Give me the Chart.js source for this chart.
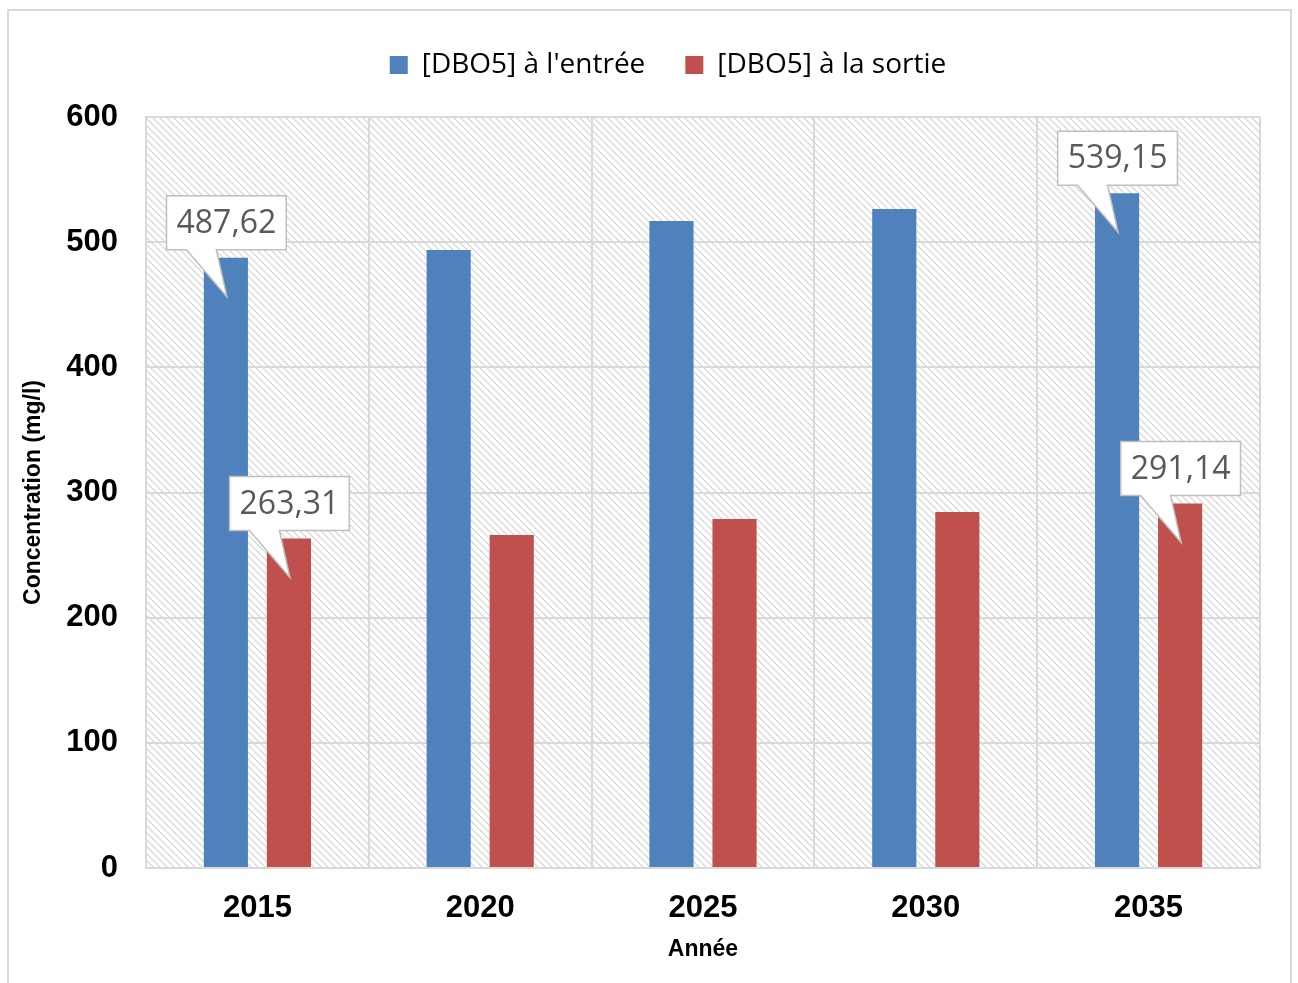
<!DOCTYPE html>
<html>
<head>
<meta charset="utf-8">
<script src="https://cdn.jsdelivr.net/npm/chart.js@4.4.1/dist/chart.umd.min.js"></script>
<style>
    html, body { margin: 0; padding: 0; background: #ffffff; }
    #wrap { width: 1298px; height: 983px; position: relative; }
</style>
</head>
<body>
<div id="wrap"><canvas id="dboChart"></canvas></div>
<script>
// ==========================================
// 1. DATA
// ==========================================
const YEARS = ['2015', '2020', '2025', '2030', '2035'];
const DBO5_ENTREE = [487.62, 493.7, 516.9, 526.5, 539.15];   // mg/l
const DBO5_SORTIE = [263.31, 266.0, 278.8, 284.4, 291.14];   // mg/l
const SERIES_NAMES = ["[DBO5] à l'entrée", '[DBO5] à la sortie'];
const Y_MIN = 0, Y_MAX = 600, Y_STEP = 100;

// [datasetIndex, pointIndex] that get a callout label
const LABELLED = [[0, 0], [0, 4], [1, 0], [1, 4]];

// Colours
const BLUE = '#4f81bd';
const RED = '#c0504d';
const GRID = '#d9d9d9';

// ==========================================
// 2. HELPERS
// ==========================================
function makeHatch() {
    const s = 7;
    const c = document.createElement('canvas');
    c.width = s; c.height = s;
    const g = c.getContext('2d');
    g.fillStyle = '#ffffff';
    g.fillRect(0, 0, s, s);
    g.strokeStyle = '#d2d2d2';
    g.lineWidth = 1.2;
    g.beginPath();
    g.moveTo(-1, -1); g.lineTo(s + 1, s + 1);
    g.moveTo(s - 1, -1); g.lineTo(s + 1, 1);
    g.moveTo(-1, s - 1); g.lineTo(1, s + 1);
    g.stroke();
    return c;
}

function fmt(v) {
    return v.toFixed(2).replace('.', ',');
}

// Page background, outer frame and hatched plot area
const backgroundPlugin = {
    id: 'background',
    beforeDraw(chart) {
        const { ctx, chartArea: a } = chart;
        ctx.save();
        ctx.fillStyle = '#ffffff';
        ctx.fillRect(0, 0, chart.width, chart.height);
        ctx.strokeStyle = GRID;
        ctx.lineWidth = 2;
        ctx.strokeRect(8, 10, 1283, 990);
        ctx.fillStyle = ctx.createPattern(makeHatch(), 'repeat');
        ctx.fillRect(a.left, a.top, a.right - a.left, a.bottom - a.top);
        ctx.restore();
    }
};

// Legend sits a bit right of the canvas centre in the original
const legendShiftPlugin = {
    id: 'legendShift',
    afterLayout(chart) {
        chart.legend.left += 38;
        chart.legend.right += 38;
    }
};

// Speech-bubble value labels above selected bars
const calloutPlugin = {
    id: 'callouts',
    afterDatasetsDraw(chart) {
        const ctx = chart.ctx;
        ctx.save();
        ctx.font = '32px "Open Sans", sans-serif';
        ctx.textAlign = 'center';
        ctx.textBaseline = 'middle';
        LABELLED.forEach(([d, i]) => {
            const bar = chart.getDatasetMeta(d).data[i];
            const value = chart.data.datasets[d].data[i];
            const text = fmt(value);
            const w = ctx.measureText(text).width + 20;
            const h = 54;
            const cx = bar.x + 0.5;
            const x0 = cx - w / 2, x1 = cx + w / 2;
            const y1 = bar.y - 8, y0 = y1 - h;
            const tipX = bar.x + 1, tipY = bar.y + 39;

            ctx.beginPath();
            ctx.moveTo(x0, y0);
            ctx.lineTo(x1, y0);
            ctx.lineTo(x1, y1);
            ctx.lineTo(cx - 10, y1);
            ctx.lineTo(tipX, tipY);
            ctx.lineTo(cx - 40, y1);
            ctx.lineTo(x0, y1);
            ctx.closePath();
            ctx.fillStyle = '#ffffff';
            ctx.fill();
            ctx.strokeStyle = '#bfbfbf';
            ctx.lineWidth = 1.5;
            ctx.stroke();

            ctx.fillStyle = '#595959';
            ctx.fillText(text, cx, (y0 + y1) / 2 + 1);
        });
        ctx.restore();
    }
};

// ==========================================
// 3. CHART
// ==========================================
const tickFont = { family: '"Liberation Sans", Arial, sans-serif', size: 31, weight: 'bold' };
const titleFont = { family: '"Liberation Sans", Arial, sans-serif', size: 23, weight: 'bold' };

new Chart(document.getElementById('dboChart'), {
    type: 'bar',
    data: {
        labels: YEARS,
        datasets: [
            { label: SERIES_NAMES[0], data: DBO5_ENTREE, backgroundColor: BLUE },
            { label: SERIES_NAMES[1], data: DBO5_SORTIE, backgroundColor: RED }
        ]
    },
    options: {
        responsive: true,
        maintainAspectRatio: false,
        animation: false,
        categoryPercentage: 0.566,
        barPercentage: 0.7,
        layout: { padding: { top: 11, right: 38, bottom: 0, left: 0 } },
        scales: {
            x: {
                grid: { color: GRID, lineWidth: 2, drawTicks: false },
                border: { color: GRID, width: 2 },
                ticks: { color: '#000', font: tickFont, padding: 22 },
                title: { display: true, text: 'Année', color: '#000', font: titleFont, padding: { top: 0, bottom: 20 } },
                afterFit: s => { s.height = 115; }
            },
            y: {
                min: Y_MIN, max: Y_MAX,
                grid: { color: GRID, lineWidth: 2, drawTicks: false },
                border: { color: GRID, width: 2 },
                ticks: { stepSize: Y_STEP, color: '#000', font: tickFont, padding: 28 },
                title: { display: true, text: 'Concentration (mg/l)', color: '#000', font: titleFont, padding: { top: 20, bottom: 0 } },
                afterFit: s => { s.width = 146; }
            }
        },
        plugins: {
            legend: {
                position: 'top',
                weight: 1000,
                labels: {
                    color: '#000',
                    font: { family: '"Open Sans", sans-serif', size: 28 },
                    boxWidth: 18,
                    boxHeight: 18,
                    padding: 40
                }
            },
            // empty subtitle used only as a spacer between legend and plot
            subtitle: { display: true, text: '', weight: 500, font: { size: 10, lineHeight: 1 }, padding: { top: 18, bottom: 0 } },
            tooltip: { enabled: false }
        }
    },
    plugins: [backgroundPlugin, legendShiftPlugin, calloutPlugin]
});
</script>
</body>
</html>
